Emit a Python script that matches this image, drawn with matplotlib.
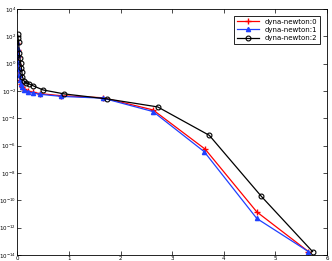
import numpy as np
import matplotlib.pyplot as plt
from matplotlib.ticker import FixedLocator, LogFormatterMathtext, NullLocator

# residual history (log10 values)
t0 = [0.0, 0.005, 0.01, 0.02, 0.03, 0.04, 0.06, 0.08, 0.1, 0.14, 0.2, 0.3, 0.45, 0.85, 1.66, 2.63, 3.64, 4.64, 5.64]
r0 = [1.5, 1.0, 0.5, 0.0, -0.5, -0.9, -1.2, -1.5, -1.7, -1.85, -2.0, -2.1, -2.2, -2.35, -2.5, -3.39, -6.26, -10.85, -13.75]

t1 = [0.0, 0.005, 0.01, 0.02, 0.03, 0.04, 0.06, 0.08, 0.1, 0.14, 0.2, 0.3, 0.45, 0.85, 1.66, 2.63, 3.62, 4.64, 5.64]
r1 = [1.6, 1.1, 0.6, 0.1, -0.4, -0.8, -1.2, -1.5, -1.75, -1.9, -2.05, -2.15, -2.25, -2.4, -2.53, -3.51, -6.44, -11.33, -13.75]

t2 = [0.005, 0.015, 0.025, 0.04, 0.05, 0.065, 0.08, 0.09, 0.1, 0.13, 0.17, 0.23, 0.31, 0.5, 0.91, 1.73, 2.72, 3.72, 4.73, 5.72]
r2 = [2.17, 1.88, 1.59, 0.78, 0.42, 0.05, -0.32, -0.61, -0.97, -1.27, -1.41, -1.49, -1.63, -1.93, -2.22, -2.58, -3.17, -5.25, -9.72, -13.75]

labels = ["dyna-newton:0", "dyna-newton:1", "dyna-newton:2"]
yticks = 10.0 ** np.arange(-14, 5, 2)

fig = plt.figure(figsize=(3.32, 2.61), dpi=100)
ax = fig.add_axes([0.052, 0.023, 0.933, 0.943])

ax.semilogy(t0, 10.0 ** np.array(r0), color='red', marker='+', ms=4, lw=0.9, label=labels[0])
ax.semilogy(t1, 10.0 ** np.array(r1), color='#2040ff', marker='^', ms=3, lw=0.9, label=labels[1])
ax.semilogy(t2, 10.0 ** np.array(r2), color='black', marker='o', ms=3.5, mfc='none', mew=0.8, lw=0.9, label=labels[2])

ax.set_xlim(0, 6)
ax.set_ylim(1e-14, 1e4)
ax.yaxis.set_major_locator(FixedLocator(yticks))
ax.yaxis.set_major_formatter(LogFormatterMathtext(base=10.0))
ax.yaxis.set_minor_locator(NullLocator())
ax.tick_params(direction='in', labelsize=4, length=3, width=0.5, top=True, right=True, pad=1)
for s in ax.spines.values():
    s.set_linewidth(0.6)

leg = ax.legend(loc='upper right', fontsize=5, fancybox=False, edgecolor='black',
                framealpha=1, handlelength=3.2, borderpad=0.4, labelspacing=0.3,
                bbox_to_anchor=(0.99, 0.985))
leg.get_frame().set_linewidth(0.6)

fig.savefig('out.png', dpi=100)
